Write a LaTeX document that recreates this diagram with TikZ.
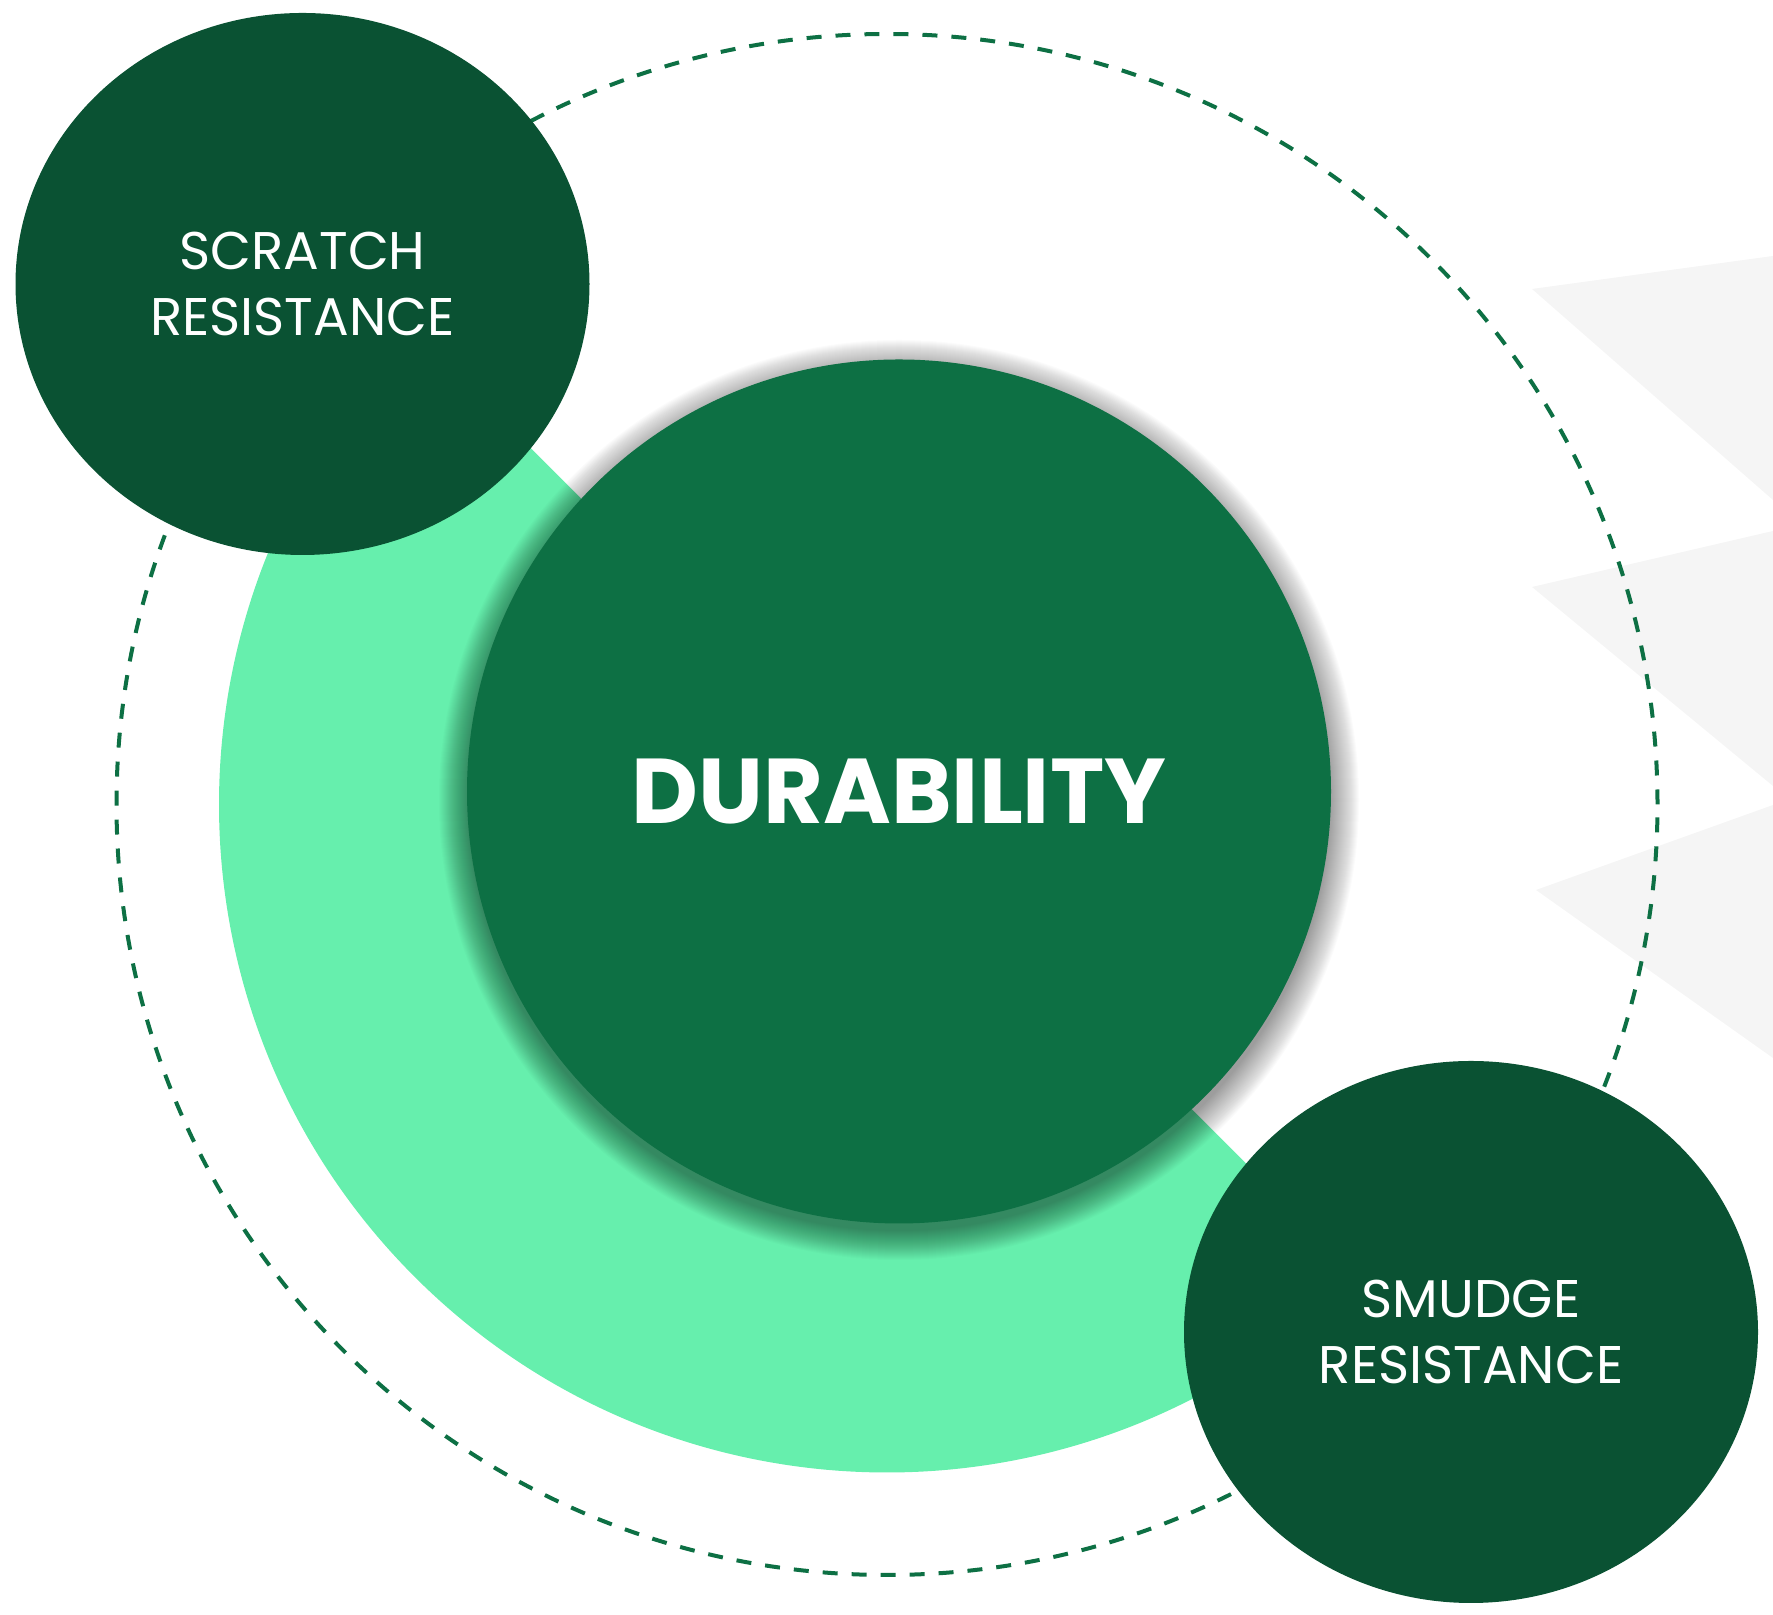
\documentclass[tikz,border=0pt]{standalone}
\usepackage{fontspec}
\setmainfont{Poppins}
\usetikzlibrary{shapes.geometric}
\definecolor{deepgreen}{HTML}{0A5233}
\definecolor{midgreen}{HTML}{0D7044}
\definecolor{mint}{HTML}{66EFAD}
\definecolor{palegray}{HTML}{F5F5F5}
\tikzset{
  satellite/.style={ellipse, fill=deepgreen, text=white, minimum width=287pt, minimum height=271pt, inner sep=0pt, align=center, font=\fontsize{26.5}{33}\selectfont},
  hub/.style={circle, fill=midgreen, text=white, minimum size=432pt, inner sep=0pt, font=\fontsize{46}{50}\selectfont\bfseries},
  orbit/.style={draw=midgreen, line width=2pt, dash pattern=on 7.5pt off 7pt},
  flag/.style={fill=palegray},
  haze/.style={fill=black, opacity=0.017}
}
\begin{document}
\begin{tikzpicture}[x=0.5pt,y=0.5pt]
\useasboundingbox (0,0) rectangle (1773,1615);
% pale flags on the right
\fill[flag] (1532,1326) -- (1773,1359) -- (1773,1115) -- cycle;
\fill[flag] (1532,1028) -- (1773,1084) -- (1773,829) -- cycle;
\fill[flag] (1536,725) -- (1773,810) -- (1773,557) -- cycle;
% orbit and half ring
\draw[orbit] (887,810.5) circle [radius=770.5];
\fill[mint] (887,810.5) ++(135:668) arc [start angle=135, end angle=315, radius=668] -- cycle;
% soft shadow under the hub
\foreach \k in {0,...,29}
  \fill[haze] (899,815) circle [radius=460-\k];
% circles
\node[hub] (durability) at (899,823.5) {DURABILITY};
\node[satellite] (scratch) at (302.5,1331) {SCRATCH\\RESISTANCE};
\node[satellite] (smudge) at (1471,283) {SMUDGE\\RESISTANCE};
\end{tikzpicture}
\end{document}
